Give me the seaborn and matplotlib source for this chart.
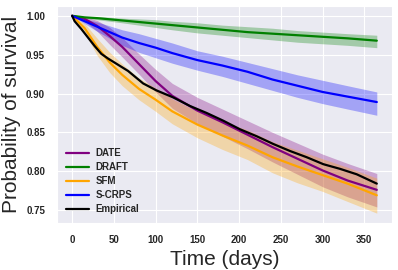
import numpy as np
import pandas as pd
import matplotlib
matplotlib.use("Agg")
import matplotlib.pyplot as plt
import seaborn as sns

# ---- data ----
t_model = [0, 15, 30, 45, 60, 80, 100, 120, 150, 180, 210, 240, 270, 300, 330, 365]

date_mean = [1.0, 0.996, 0.987, 0.974, 0.960, 0.938, 0.916, 0.897, 0.878, 0.863, 0.847, 0.831, 0.816, 0.801, 0.788, 0.776]
date_upper = [1.0, 0.999, 0.994, 0.985, 0.972, 0.951, 0.931, 0.913, 0.895, 0.880, 0.865, 0.850, 0.836, 0.822, 0.810, 0.797]
date_lower = [1.0, 0.993, 0.980, 0.963, 0.947, 0.925, 0.902, 0.881, 0.861, 0.845, 0.829, 0.812, 0.796, 0.780, 0.767, 0.754]

draft_mean = [1.0, 0.998, 0.997, 0.9955, 0.994, 0.992, 0.990, 0.988, 0.985, 0.982, 0.979, 0.977, 0.975, 0.973, 0.971, 0.968]
draft_upper = [1.0, 0.999, 0.999, 0.998, 0.997, 0.996, 0.995, 0.993, 0.991, 0.988, 0.986, 0.984, 0.981, 0.979, 0.977, 0.975]
draft_lower = [1.0, 0.997, 0.995, 0.993, 0.991, 0.988, 0.985, 0.982, 0.978, 0.975, 0.972, 0.969, 0.966, 0.964, 0.962, 0.959]

sfm_mean = [1.0, 0.984, 0.960, 0.940, 0.924, 0.906, 0.892, 0.877, 0.860, 0.846, 0.833, 0.818, 0.806, 0.795, 0.784, 0.769]
sfm_upper = [1.0, 0.990, 0.971, 0.953, 0.938, 0.920, 0.907, 0.893, 0.877, 0.864, 0.853, 0.838, 0.827, 0.816, 0.805, 0.791]
sfm_lower = [1.0, 0.978, 0.949, 0.927, 0.910, 0.892, 0.877, 0.861, 0.843, 0.828, 0.815, 0.798, 0.785, 0.774, 0.761, 0.746]

scrps_mean = [1.0, 0.993, 0.986, 0.979, 0.972, 0.965, 0.959, 0.952, 0.943, 0.936, 0.928, 0.918, 0.910, 0.902, 0.896, 0.889]
scrps_upper = [1.0, 0.996, 0.992, 0.987, 0.982, 0.977, 0.971, 0.965, 0.955, 0.948, 0.940, 0.932, 0.924, 0.917, 0.910, 0.902]
scrps_lower = [1.0, 0.990, 0.980, 0.971, 0.962, 0.953, 0.946, 0.939, 0.930, 0.922, 0.913, 0.904, 0.895, 0.887, 0.880, 0.872]

t_emp = [0, 3, 11, 19, 27, 35, 43, 55, 67, 85, 101, 121, 141, 161, 181, 201, 221, 241, 261, 281, 301, 321, 341, 365]
emp = [1.0, 0.993, 0.983, 0.972, 0.961, 0.951, 0.945, 0.937, 0.929, 0.913, 0.904, 0.895, 0.884, 0.875,
       0.865, 0.854, 0.845, 0.835, 0.826, 0.818, 0.809, 0.803, 0.796, 0.784]

models = ["DATE", "DRAFT", "SFM", "S-CRPS"]
means = [date_mean, draft_mean, sfm_mean, scrps_mean]
uppers = [date_upper, draft_upper, sfm_upper, scrps_upper]
lowers = [date_lower, draft_lower, sfm_lower, scrps_lower]
colors = {"DATE": "purple", "DRAFT": "green", "SFM": "orange", "S-CRPS": "blue", "Empirical": "black"}

rows = []
for name, m in zip(models, means):
    for t, v in zip(t_model, m):
        rows.append((name, t, v))
for t, v in zip(t_emp, emp):
    rows.append(("Empirical", t, v))
df = pd.DataFrame(rows, columns=["model", "time", "surv"])

# ---- style ----
sns.set_style("darkgrid")
plt.rcParams["font.family"] = ["Liberation Sans", "DejaVu Sans"]

fig = plt.figure(figsize=(3.98, 2.70), dpi=100)
ax = fig.add_axes([0.143, 0.174, 0.842, 0.804])

for name, lo, hi in zip(models, lowers, uppers):
    ax.fill_between(t_model, lo, hi, color=colors[name], alpha=0.3, linewidth=0)

sns.lineplot(data=df, x="time", y="surv", hue="model", palette=colors,
             hue_order=["DATE", "DRAFT", "SFM", "S-CRPS", "Empirical"],
             linewidth=1.6, ax=ax, estimator=None, sort=False)

ax.set_xlabel("Time (days)", fontsize=15)
ax.set_ylabel("Probability of survival", fontsize=15)
ax.set_xticks([0, 50, 100, 150, 200, 250, 300, 350])
ax.set_yticks([0.75, 0.80, 0.85, 0.90, 0.95, 1.00])
ax.yaxis.set_major_formatter(matplotlib.ticker.FormatStrFormatter("%.2f"))
for lab in ax.get_xticklabels() + ax.get_yticklabels():
    lab.set_fontweight("bold")
    lab.set_fontsize(7)
ax.tick_params(axis="both", pad=5)

leg = ax.legend(loc="lower left", frameon=False, handlelength=2.4,
                labelspacing=0.42, handletextpad=0.7,
                prop={"weight": "bold", "size": 7})
for line in leg.get_lines():
    line.set_linewidth(1.6)

fig.savefig("out.png", dpi=100)
